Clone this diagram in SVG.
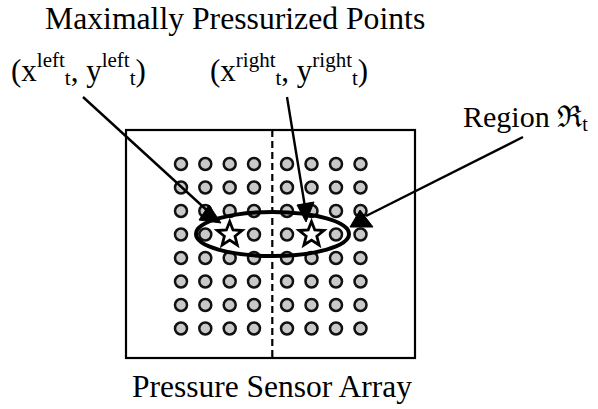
<svg xmlns="http://www.w3.org/2000/svg" xmlns:xlink="http://www.w3.org/1999/xlink" width="598" height="409" viewBox="0 0 598 409">
<style>
  .lbl { font-family: "Liberation Serif", "Times New Roman", "DejaVu Serif", serif; fill: #000; }
  .dot { fill: #c9c9c9; stroke: #111; stroke-width: 2.5; }
  .line { stroke: #000; stroke-width: 2.4; fill: none; }
  .head { fill: #000; stroke: #000; stroke-width: 1; stroke-linejoin: round; }
  .star { fill: #fff; stroke: #000; stroke-width: 2.8; stroke-linejoin: miter; }
</style>
<defs>
  <g id="row">
    <circle class="dot" cx="181" cy="0" r="6"/>
    <circle class="dot" cx="205.3" cy="0" r="6"/>
    <circle class="dot" cx="229.7" cy="0" r="6"/>
    <circle class="dot" cx="254" cy="0" r="6"/>
    <circle class="dot" cx="287" cy="0" r="6"/>
    <circle class="dot" cx="311.5" cy="0" r="6"/>
    <circle class="dot" cx="336" cy="0" r="6"/>
    <circle class="dot" cx="360.5" cy="0" r="6"/>
  </g>
  <polygon id="starShape" class="star" points="0,-13 3.3,-4.5 12.4,-4 5.3,1.7 7.6,10.5 0,5.6 -7.6,10.5 -5.3,1.7 -12.4,-4 -3.3,-4.5"/>
</defs>
<rect width="598" height="409" fill="#fff"/>

<g id="title">
  <text class="lbl" x="45" y="29" font-size="31.7">Maximally Pressurized Points</text>
</g>

<g id="label-left">
  <text class="lbl" x="11" y="81" font-size="31">(x<tspan font-size="21" y="67">left</tspan><tspan font-size="21" y="85">t</tspan><tspan y="81">, y</tspan><tspan font-size="21" y="67">left</tspan><tspan font-size="21" y="85">t</tspan><tspan y="81">)</tspan></text>
</g>

<g id="label-right">
  <text class="lbl" x="210" y="81" font-size="31">(x<tspan font-size="21" y="67">right</tspan><tspan font-size="21" y="85">t</tspan><tspan y="81">, y</tspan><tspan font-size="21" y="67">right</tspan><tspan font-size="21" y="85">t</tspan><tspan y="81">)</tspan></text>
</g>

<g id="label-region">
  <text class="lbl" x="463" y="127" font-size="30">Region ℜ<tspan font-size="20" y="131">t</tspan></text>
</g>

<g id="sensor-array">
  <rect x="126" y="130" width="289" height="228" fill="none" stroke="#000" stroke-width="2.2"/>
  <line x1="272.3" y1="130" x2="272.3" y2="358" stroke="#000" stroke-width="2.2" stroke-dasharray="7 4"/>
  <use xlink:href="#row" href="#row" y="164"/>
  <use xlink:href="#row" href="#row" y="187.5"/>
  <use xlink:href="#row" href="#row" y="211"/>
  <g>
    <circle class="dot" cx="181" cy="234.5" r="6"/>
    <circle class="dot" cx="205.3" cy="234.5" r="6"/>
    <circle class="dot" cx="254" cy="234.5" r="6"/>
    <circle class="dot" cx="287" cy="234.5" r="6"/>
    <circle class="dot" cx="336" cy="234.5" r="6"/>
    <circle class="dot" cx="360.5" cy="234.5" r="6"/>
  </g>
  <use xlink:href="#row" href="#row" y="258"/>
  <use xlink:href="#row" href="#row" y="281.5"/>
  <use xlink:href="#row" href="#row" y="305"/>
  <use xlink:href="#row" href="#row" y="328.5"/>
  <ellipse cx="272.5" cy="234" rx="76.5" ry="22" fill="none" stroke="#000" stroke-width="4"/>
  <use xlink:href="#starShape" href="#starShape" x="229.7" y="234.5"/>
  <use xlink:href="#starShape" href="#starShape" x="311.5" y="234.5"/>
</g>

<g id="caption">
  <text class="lbl" x="132" y="397" font-size="31.5">Pressure Sensor Array</text>
</g>

<g id="connectors">
  <line class="line" x1="83" y1="97" x2="211" y2="214"/>
  <polygon class="head" points="209,205 199,220 221,223"/>
  <line class="line" x1="287" y1="97" x2="305" y2="207"/>
  <polygon class="head" points="297,205 314,202 306,222"/>
  <line class="line" x1="523" y1="137" x2="366" y2="216"/>
  <polygon class="head" points="360,210 350,227 373,227"/>
</g>
</svg>
